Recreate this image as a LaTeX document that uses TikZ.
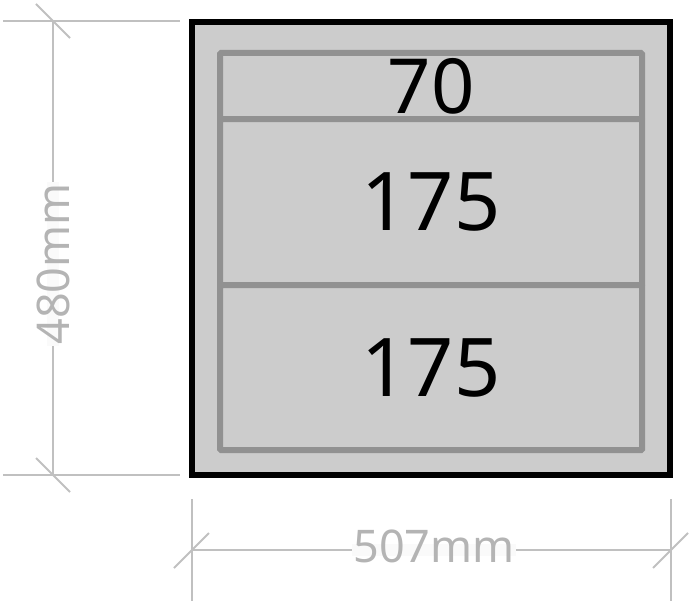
\documentclass[tikz,border=0pt]{standalone}
\usepackage{fontspec}
\setmainfont{Noto Sans}
\begin{document}
\begin{tikzpicture}[x=1pt,y=-1pt,
  cabinet/.style={draw=black,fill=cabfill,line width=6pt,minimum width=478pt,minimum height=452.5pt,inner sep=0pt},
  drawer/.style={draw=drawerline,fill=cabfill,line width=6pt,minimum width=422pt,inner sep=0pt,rounded corners=1pt},
  dimline/.style={draw=dimgray,line width=2pt},
  dimlabel/.style={text=dimtext,fill=labelbg,inner sep=1pt,font=\fontsize{45}{45}\selectfont,text height=0.8em,text depth=0.14em}
]
\definecolor{cabfill}{HTML}{CCCCCC}
\definecolor{drawerline}{HTML}{919191}
\definecolor{dimgray}{HTML}{C0C0C0}
\definecolor{dimtext}{HTML}{B4B4B4}
\definecolor{labelbg}{HTML}{FAFAFA}
\useasboundingbox (0,0) rectangle (691,602);

% cabinet
\node[cabinet] (cab) at (431,248.25) {};
\node[drawer,minimum height=66pt] (d1) at (431,86) {};
\node[drawer,minimum height=166pt] (d2) at (431,202) {};
\node[drawer,minimum height=165pt] (d3) at (431,367.5) {};
\node[font=\fontsize{76}{76}\selectfont] (t1) at (d1.center) {70};
\node[font=\fontsize{81}{81}\selectfont] (t2) at (d2.center) {175};
\node[font=\fontsize{81}{81}\selectfont] (t3) at (d3.center) {175};

% vertical dimension
\coordinate (vt) at (53,21);
\coordinate (vb) at (53,475);
\coordinate (vte) at (3,21);
\coordinate (vtf) at (180,21);
\coordinate (vbe) at (3,475);
\coordinate (vbf) at (180,475);
\coordinate (vt1) at (36,4);
\coordinate (vt2) at (70,38);
\coordinate (vb1) at (36,458);
\coordinate (vb2) at (70,492);
\draw[dimline] (vte) -- (vtf);
\draw[dimline] (vbe) -- (vbf);
\draw[dimline] (vt) -- (vb);
\draw[dimline] (vt1) -- (vt2);
\draw[dimline] (vb1) -- (vb2);
\node[dimlabel,rotate=90] (vlab) at (53,264) {\raisebox{-13pt}{480mm}};

% horizontal dimension
\coordinate (hl) at (192,550);
\coordinate (hr) at (671,550);
\coordinate (hle) at (192,499);
\coordinate (hlf) at (192,601);
\coordinate (hre) at (671,499);
\coordinate (hrf) at (671,601);
\coordinate (hl1) at (174,568);
\coordinate (hl2) at (209,533);
\coordinate (hr1) at (653,568);
\coordinate (hr2) at (688,533);
\draw[dimline] (hle) -- (hlf);
\draw[dimline] (hre) -- (hrf);
\draw[dimline] (hl) -- (hr);
\draw[dimline] (hl1) -- (hl2);
\draw[dimline] (hr1) -- (hr2);
\node[dimlabel] (hlab) at (434,550) {\raisebox{-9pt}{507mm}};
\end{tikzpicture}
\end{document}
